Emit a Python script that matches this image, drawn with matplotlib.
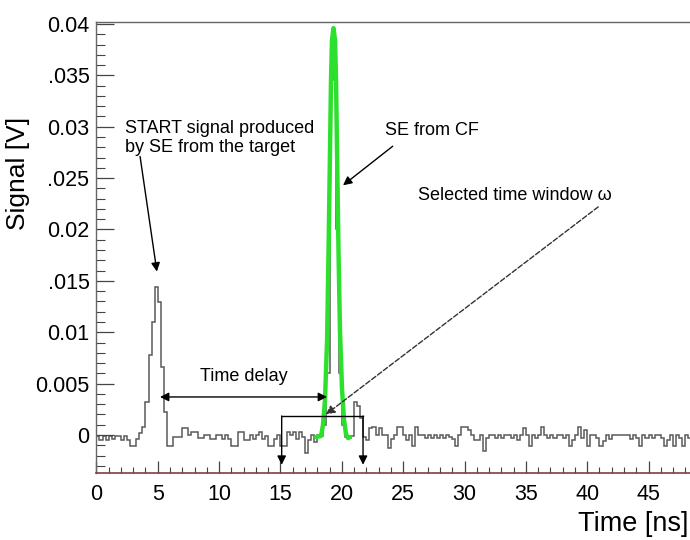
import numpy as np
import matplotlib
matplotlib.use('Agg')
import matplotlib.pyplot as plt

plt.rcParams['font.family'] = ['Liberation Sans', 'DejaVu Sans']

# ---------------- data ----------------
bin_width_ns = 0.25
# histogram contents, units of 1e-4 V, one value per 0.25 ns bin starting at 0 ns
signal_e4 = [
    -1, -5, -1, -5, -1, -4, -1, -1, -5, -1, -5, -11, -11, -4, 2, 8, 32, 78, 110, 144,
    129, 66, 22, -11, -11, -2, -2, -2, 7, 7, 0, 3, 3, -3, -3, 0, 0, -4, -4, 0,
    0, -4, 0, -4, -11, -11, 3, 3, -5, -5, 0, -4, 0, 3, -4, -1, -11, -11, -4, 0,
    -11, -11, 3, 0, 3, -4, 3, -2, -18, -5, 0, -7, 0, -1, 10, 60, 345, 362, 200, 60,
    10, -2, -3, -1, 32, 28, 17, -2, -5, 7, 8, 0, 7, 0, 0, -13, -4, 0, 8, 8,
    0, -5, 0, -11, 8, 0, 0, -3, 0, -3, 0, -3, 0, -3, 0, -2, -4, -11, 0, 8,
    8, 5, 0, -5, -5, 0, -16, -3, 0, 0, -3, 0, -3, 0, 0, -3, 0, -5, 0, 7,
    0, -11, 0, -3, 0, 8, 0, -3, 0, -3, 0, 0, -3, 0, -11, -5, 0, 8, -3, 5,
    -11, 0, 0, -3, -11, -6, 0, -4, 0, 0, 0, 0, 0, 0, -4, 0, -3, -11, 0, -3,
    0, -3, 0, 0, -3, -11, -5, 0, -11, 0, -3, -11, 0, -3,
]

# fitted CF pulse (green curve)
fit_t = [17.90, 18.31, 18.47, 18.63, 18.80, 18.92, 19.04, 19.12, 19.20, 19.32,
         19.45, 19.53, 19.61, 19.73, 19.85, 20.02, 20.18, 20.34, 20.51, 20.67]
fit_v = [-0.0002, -0.0001, 0.0010, 0.0034, 0.0092, 0.0180, 0.0277, 0.0345, 0.0384, 0.0396,
         0.0384, 0.0345, 0.0277, 0.0180, 0.0102, 0.0044, 0.0015, 0.0001, -0.0003, -0.0002]

ytick_vals = [0, 0.005, 0.01, 0.015, 0.02, 0.025, 0.03, 0.035, 0.04]
ytick_labels = ['0', '0.005', '0.01', '.015', '0.02', '.025', '0.03', '.035', '0.04']
xtick_vals = [0, 5, 10, 15, 20, 25, 30, 35, 40, 45]

start_peak = (4.93, 0.0159)
cf_point = (20.1, 0.0243)
delay_from, delay_to, delay_level = 5.18, 18.8, 0.0037
window_lo, window_hi, window_level, window_bottom = 15.1, 21.73, 0.00185, -0.0029
window_pointer = (18.7, 0.0020)

# ---------------- figure ----------------
fig = plt.figure(figsize=(6.9, 5.4), dpi=100)
ax = fig.add_axes([96.4 / 690, 1 - 473 / 540, 1 - 96.4 / 690, (473 - 21.7) / 540])

edges = np.arange(len(signal_e4) + 1) * bin_width_ns
ax.stairs(np.array(signal_e4) * 1e-4, edges, color='#5a5a5a', lw=1.1, baseline=None)
ax.plot(fit_t, fit_v, color='#2ee02e', lw=3.2, solid_joinstyle='round', solid_capstyle='round')

ax.set_xlim(0, (690 - 96.4) / 12.27)
ax.set_ylim(-0.0037, 0.04022)

ax.set_xticks(xtick_vals)
ax.set_xticklabels([str(v) for v in xtick_vals])
ax.set_yticks(ytick_vals)
ax.set_yticklabels(ytick_labels)
ax.set_xticks(np.arange(0, 49, 1), minor=True)
ax.set_yticks(np.arange(-0.003, 0.0405, 0.001), minor=True)

ax.tick_params(axis='y', which='major', direction='in', length=13, width=0.9, colors='#444444',
               labelsize=15.5, labelcolor='black', pad=5)
ax.tick_params(axis='y', which='minor', direction='in', length=6.5, width=0.8, colors='#444444')
ax.tick_params(axis='x', which='major', direction='in', length=9, width=0.9, colors='#444444',
               labelsize=15.5, labelcolor='black', pad=8)
ax.tick_params(axis='x', which='minor', direction='in', length=4.5, width=0.8, colors='#444444')

for s in ['left', 'top']:
    ax.spines[s].set_color('#666666')
    ax.spines[s].set_linewidth(1.0)
ax.spines['bottom'].set_color('#7a4040')
ax.spines['bottom'].set_linewidth(1.2)
ax.spines['right'].set_visible(False)

fig.text(18 / 690, 1 - 173 / 540, 'Signal [V]', rotation=90, ha='center', va='center', fontsize=19)
fig.text(688 / 690, 1 - 524 / 540, 'Time [ns]', ha='right', va='center', fontsize=19.5)

arrow = dict(arrowstyle='-|>', color='black', lw=1.0, mutation_scale=13, shrinkA=0, shrinkB=0)

ax.text(2.33, 0.0289, 'START signal produced\nby SE from the target', fontsize=13,
        ha='left', va='center', linespacing=1.2)
ax.annotate('', xy=start_peak, xytext=(3.56, 0.0271), arrowprops=arrow)

ax.text(23.5, 0.0296, 'SE from CF', fontsize=13, ha='left', va='center')
ax.annotate('', xy=cf_point, xytext=(24.15, 0.0281), arrowprops=arrow)

ax.text(26.2, 0.02326, 'Selected time window ω', fontsize=13, ha='left', va='center')
ax.annotate('', xy=window_pointer, xytext=(40.9, 0.0222),
            arrowprops=dict(arrowstyle='-|>', color='#333333', lw=1.0, ls='--',
                            mutation_scale=13, shrinkA=0, shrinkB=0))

ax.text(8.44, 0.00565, 'Time delay', fontsize=13, ha='left', va='center')
ax.annotate('', xy=(delay_to, delay_level), xytext=(delay_from, delay_level),
            arrowprops=dict(arrowstyle='<|-|>', color='black', lw=1.0, mutation_scale=13,
                            shrinkA=0, shrinkB=0))

ax.plot([window_lo, window_hi], [window_level, window_level], color='black', lw=1.0)
for xw in (window_lo, window_hi):
    ax.annotate('', xy=(xw, window_bottom), xytext=(xw, window_level), arrowprops=arrow)

fig.savefig('out.png', dpi=100)
